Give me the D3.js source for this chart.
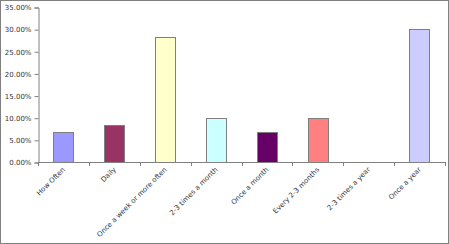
<!DOCTYPE html>
<html>
<head>
<script src="https://d3js.org/d3.v7.min.js"></script>
<style>
  body { margin: 0; background: #fff; }
  text { font-family: "DejaVu Sans", sans-serif; }
</style>
</head>
<body>
<div id="chart"></div>
<script>
const categories = ["How Often", "Daily", "Once a week or more often", "2-3 times a month",
                    "Once a month", "Every 2-3 months", "2-3 times a year", "Once a year"];
const values = [6.67, 8.33, 28.33, 10.0, 6.67, 10.0, 0, 30.0];
const colors = ["#9999ff", "#993366", "#ffffcc", "#ccffff", "#660066", "#ff8080", "#ccccff", "#ccccff"];
const yTicks = [0, 5, 10, 15, 20, 25, 30, 35];

const w = 449, h = 244;
const mLeft = 38, mRight = 445, mTop = 7, mBottom = 162;

const svg = d3.select("#chart").append("svg")
  .attr("width", w)
  .attr("height", h);

// outer frame
svg.append("rect")
  .attr("x", 0.5).attr("y", 0.5)
  .attr("width", w - 1).attr("height", h - 1)
  .attr("fill", "#fff")
  .attr("stroke", "#808080");

const xScale = d3.scaleBand()
  .domain(categories)
  .range([mLeft, mRight])
  .paddingInner(0.6)
  .paddingOuter(0.3);

const band = d3.scaleBand().domain(categories).range([mLeft, mRight]);

const yScale = d3.scaleLinear()
  .domain([0, 35])
  .range([mBottom, mTop]);

// bars
svg.selectAll("rect.bar")
  .data(values)
  .enter()
  .append("rect")
  .attr("class", "bar")
  .attr("x", (d, i) => Math.round(xScale(categories[i])) + 0.5)
  .attr("y", d => Math.round(yScale(d)) + 0.5)
  .attr("width", Math.round(xScale.bandwidth()))
  .attr("height", d => Math.round(yScale(0)) - Math.round(yScale(d)))
  .attr("fill", (d, i) => colors[i])
  .attr("stroke", "#7f7f7f")
  .attr("stroke-width", 1)
  .style("display", d => d > 0 ? null : "none");

// y axis
const yAxis = d3.axisLeft(yScale)
  .tickValues(yTicks)
  .tickSize(4)
  .tickPadding(3)
  .tickFormat(d => d.toFixed(2) + "%");

const gy = svg.append("g")
  .attr("transform", "translate(" + (mLeft + 0.5) + ",0.5)")
  .call(yAxis);
gy.select(".domain").attr("stroke", "#808080");
gy.selectAll(".tick line").attr("stroke", "#808080");
gy.selectAll(".tick text")
  .attr("fill", "#333")
  .style("font-size", "7px")
  .style("font-family", "DejaVu Sans, sans-serif");

// x axis line and ticks at category boundaries
const gx = svg.append("g");
gx.append("line")
  .attr("x1", mLeft).attr("x2", mRight)
  .attr("y1", mBottom + 0.5).attr("y2", mBottom + 0.5)
  .attr("stroke", "#808080");
const bounds = categories.map(c => band(c)).concat([mRight]);
gx.selectAll("line.tk")
  .data(bounds)
  .enter()
  .append("line")
  .attr("class", "tk")
  .attr("x1", d => Math.round(d) + 0.5)
  .attr("x2", d => Math.round(d) + 0.5)
  .attr("y1", mBottom)
  .attr("y2", mBottom + 4)
  .attr("stroke", "#808080");

// x labels
gx.selectAll("text")
  .data(categories)
  .enter()
  .append("text")
  .attr("transform", d => "translate(" + (band(d) + band.bandwidth() / 2 + 2) + "," + (mBottom + 8) + ") rotate(-45)")
  .attr("text-anchor", "end")
  .attr("fill", "#333")
  .style("font-size", "7px")
  .text(d => d);
</script>
</body>
</html>
